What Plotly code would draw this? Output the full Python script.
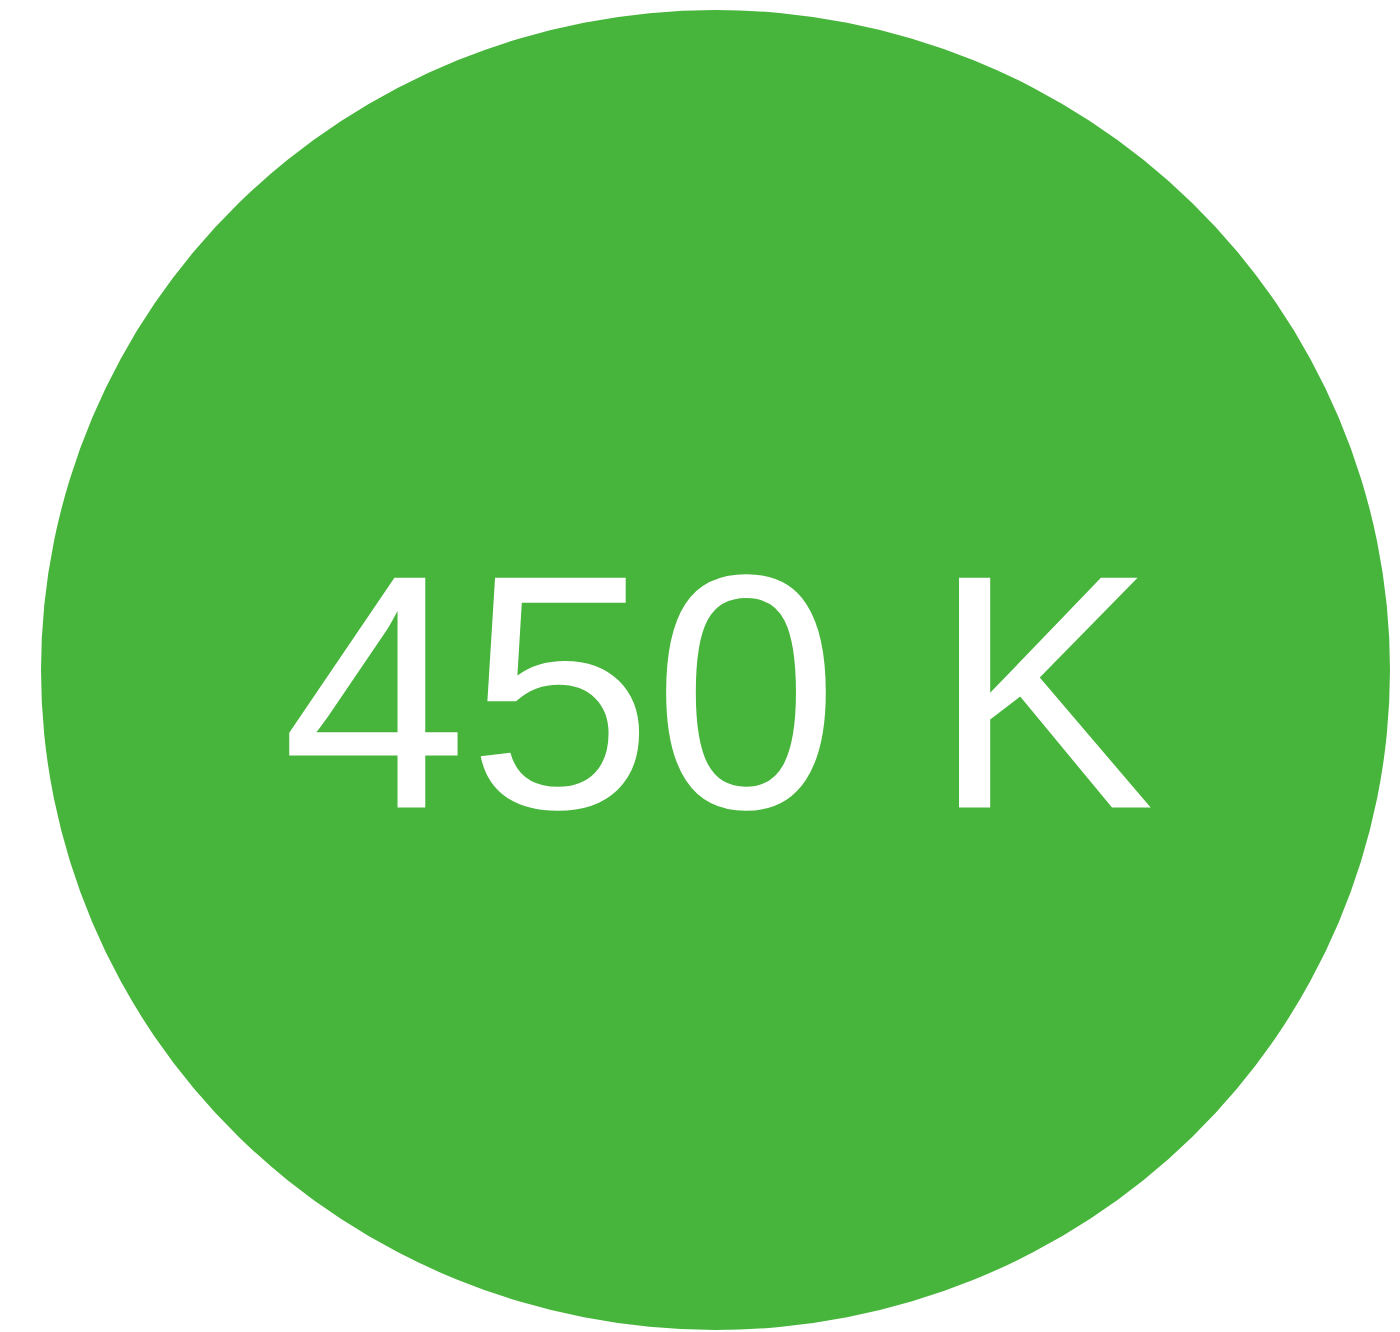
import plotly.graph_objects as go

# Data
kpi_values = [450]
kpi_units = ["K"]
kpi_labels = [f"{v} {u}" for v, u in zip(kpi_values, kpi_units)]

W, H = 1400, 1332
fig = go.Figure()

fig.add_shape(type="circle", xref="paper", yref="paper",
              x0=41 / W, x1=1390 / W, y0=1 - 1330 / H, y1=1 - 10 / H,
              fillcolor="#47B53B", line=dict(width=0), layer="below")

fig.add_trace(go.Scatter(
    x=[0.5 + 18 / W], y=[0.5 - 58 / H], mode="text", text=kpi_labels,
    textfont=dict(family="Liberation Sans, Arial, sans-serif", size=334, color="white"),
    textposition="middle center", hoverinfo="skip", showlegend=False))

fig.update_xaxes(visible=False, range=[0, 1], fixedrange=True)
fig.update_yaxes(visible=False, range=[0, 1], fixedrange=True)
fig.update_layout(width=W, height=H, margin=dict(l=0, r=0, t=0, b=0),
                  paper_bgcolor="white", plot_bgcolor="white")

fig.write_html("out.html", config={"displayModeBar": False},
               post_script="document.body.style.margin='0';document.body.style.overflow='hidden';")
